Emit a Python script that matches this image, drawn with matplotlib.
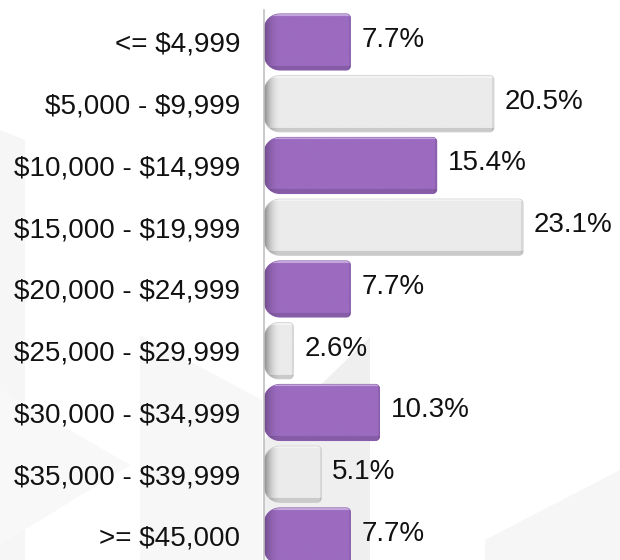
import numpy as np
import matplotlib.pyplot as plt
from matplotlib.colors import to_rgb
from matplotlib.patches import Polygon, PathPatch
from matplotlib.path import Path

plt.rcParams["font.family"] = ["Liberation Sans", "DejaVu Sans"]

# ----------------------------------------------------------------------------
# Data
categories = ["<= $4,999", "$5,000 - $9,999", "$10,000 - $14,999",
              "$15,000 - $19,999", "$20,000 - $24,999", "$25,000 - $29,999",
              "$30,000 - $34,999", "$35,000 - $39,999", ">= $45,000"]
percent = [7.7, 20.5, 15.4, 23.1, 7.7, 2.6, 10.3, 5.1, 7.7]
bar_colors = ["#9b6bc0", "#ebebeb"] * 5

W, H, DPI = 620, 560, 100
fig = plt.figure(figsize=(W / DPI, H / DPI), dpi=DPI)
fig.patch.set_facecolor("white")


# ----------------------------------------------------------------------------
# faint watermark shapes in the background (pixel coords -> figure coords)
def px(points):
    return [(x / W, 1 - y / H) for x, y in points]


shapes = [
    ([(0, 130), (25, 140), (25, 560), (0, 560)], "#f6f6f6"),
    ([(0, 390), (130, 465), (0, 545)], "#f8f8f8"),
    ([(140, 335), (262, 400), (262, 560), (140, 560)], "#f7f7f7"),
    ([(264, 440), (370, 337), (370, 560), (264, 560)], "#efefef"),
    ([(485, 540), (620, 470), (620, 560), (485, 560)], "#f6f6f6"),
]
for pts, c in shapes:
    fig.patches.append(Polygon(px(pts), closed=True, transform=fig.transFigure,
                               facecolor=c, edgecolor="none", zorder=-5))

# ----------------------------------------------------------------------------
# Axes
ax = fig.add_axes([264 / W, 0, (W - 264) / W, 550 / H])
ax.patch.set_alpha(0)

y = np.arange(len(categories))
bars = ax.barh(y, percent, height=0.907, color="none", edgecolor="none")

xlim = (0, (W - 264) / 11.21)
ylim = (8.389, -0.518)

sx = 11.21   # px per x unit
sy = 61.75   # px per y unit


def bar_path(x0, y0, w, h, rl, rr):
    # rounded rect, big radius on the left, small on the right (data coords)
    rlx, rly = min(rl / sx, w / 2), rl / sy
    rrx, rry = min(rr / sx, w / 2), rr / sy
    pts = []
    t = np.linspace(0, np.pi / 2, 12)
    for a in t:   # top-left (y0 is the visual top)
        pts.append((x0 + rlx - rlx * np.cos(a), y0 + rly - rly * np.sin(a)))
    for a in t:   # top-right
        pts.append((x0 + w - rrx + rrx * np.sin(a), y0 + rry - rry * np.cos(a)))
    for a in t:   # bottom-right
        pts.append((x0 + w - rrx + rrx * np.cos(a), y0 + h - rry + rry * np.sin(a)))
    for a in t:   # bottom-left
        pts.append((x0 + rlx - rlx * np.sin(a), y0 + h - rly + rly * np.cos(a)))
    pts.append(pts[0])
    return Path(pts, closed=True)


def shade(color, wpx, hpx, purple):
    base = np.array(to_rgb(color))
    xs = np.arange(wpx)[None, :]
    ys = np.arange(hpx)[:, None]
    left = np.clip(xs / 16.0, 0, 1)
    left = left * (2 - left)
    lo = 0.72 if purple else 0.6
    f = lo + (1 - lo) * left
    f = f * np.where(ys > hpx - 5, 0.86, 1.0)
    f = f * np.where(xs > wpx - 3, 0.92, 1.0)
    img = base[None, None, :] * f[:, :, None]
    top = np.broadcast_to((ys < 3)[:, :, None], img.shape)
    img = np.where(top, img * 0.6 + 0.4, img)
    return np.clip(img, 0, 1)


for rect, c in zip(bars, bar_colors):
    x0, y0, w, h = rect.get_x(), rect.get_y(), rect.get_width(), rect.get_height()
    purple = c != "#ebebeb"
    patch = PathPatch(bar_path(x0, y0, w, h, 16, 4), facecolor=c,
                      edgecolor="#8a5cae" if purple else "#c8c8c8",
                      lw=0.8, zorder=2)
    ax.add_patch(patch)
    wpx, hpx = max(int(w * sx), 2), int(h * sy)
    im = ax.imshow(shade(c, wpx, hpx, purple), extent=(x0, x0 + w, y0 + h, y0),
                   origin="upper", aspect="auto", zorder=2.5,
                   interpolation="bilinear")
    im.set_clip_path(patch)

    ax.annotate(f"{w:.1f}%", (x0 + w, y0 + h / 2), xytext=(8, 1.5),
                textcoords="offset points", ha="left", va="center",
                fontsize=20, color="#111111", zorder=3)

ax.set_xlim(*xlim)
ax.set_ylim(*ylim)

ax.set_yticks(y)
ax.set_yticklabels([c.replace("$", r"\$") for c in categories],
                   fontsize=20, color="#111111")
ax.tick_params(axis="y", length=0, pad=17)
ax.set_xticks([])
for side in ["top", "right", "bottom"]:
    ax.spines[side].set_visible(False)
ax.spines["left"].set_color("#c0c0c0")
ax.spines["left"].set_linewidth(1.2)

plt.savefig("out.png", dpi=DPI)
